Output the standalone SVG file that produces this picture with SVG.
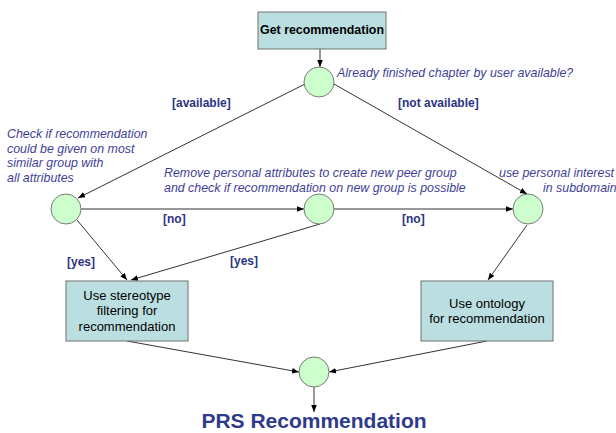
<svg xmlns="http://www.w3.org/2000/svg" width="616" height="433" viewBox="0 0 616 433">
<style>
.box{fill:#bbdfe1;stroke:#707070;stroke-width:1}
.dec{fill:#ccffcc;stroke:#7a7a7a;stroke-width:1}
.btxt{font-family:"Liberation Sans",Arial,sans-serif;font-size:13px;fill:#000;text-anchor:middle}
.note{font-family:"Liberation Sans",Arial,sans-serif;font-size:12.4px;font-style:italic;fill:#3f3f98}
.guard{font-family:"Liberation Sans",Arial,sans-serif;font-size:12px;font-weight:bold;fill:#2b3585}
.edge{stroke:#333;stroke-width:1;fill:none;marker-end:url(#ah)}
</style>
<defs>
<marker id="ah" viewBox="0 0 10 10" refX="10" refY="5" markerWidth="7" markerHeight="7" markerUnits="userSpaceOnUse" orient="auto">
<path d="M0,1 L10,5 L0,9 z" fill="#000"/>
</marker>
</defs>
<rect width="616" height="433" fill="#fff"/>
<g id="connectors">
<line class="edge" x1="320" y1="49" x2="320" y2="67"/>
<line class="edge" x1="305" y1="84" x2="78" y2="198"/>
<line class="edge" x1="334" y1="84" x2="527" y2="194"/>
<line class="edge" x1="81" y1="209" x2="304" y2="209"/>
<line class="edge" x1="334" y1="209" x2="513" y2="209"/>
<line class="edge" x1="77" y1="220" x2="127" y2="280"/>
<line class="edge" x1="320" y1="224" x2="131" y2="280"/>
<line class="edge" x1="527" y1="225" x2="488" y2="280"/>
<line class="edge" x1="127" y1="341" x2="299" y2="372"/>
<line class="edge" x1="487" y1="341" x2="329" y2="372"/>
<line class="edge" x1="314" y1="387" x2="314" y2="412"/>
<text class="guard" x="172" y="107">[available]</text>
<text class="guard" x="398" y="107">[not available]</text>
<text class="guard" x="163" y="223">[no]</text>
<text class="guard" x="402" y="223">[no]</text>
<text class="guard" x="67" y="266">[yes]</text>
<text class="guard" x="230" y="265">[yes]</text>
</g>
<g id="get-recommendation">
<rect class="box" x="258" y="12" width="128" height="37"/>
<text x="322" y="34" font-family="Liberation Sans, Arial, sans-serif" font-size="12.4" font-weight="bold" text-anchor="middle">Get recommendation</text>
</g>
<g id="decision-top">
<circle class="dec" cx="319" cy="82" r="15"/>
<text class="note" x="337" y="77">Already finished chapter by user available?</text>
</g>
<g id="decision-left">
<circle class="dec" cx="66" cy="209" r="15"/>
<text class="note" x="7" y="138">Check if recommendation</text>
<text class="note" x="7" y="152.5">could be given on most</text>
<text class="note" x="7" y="167">similar group with</text>
<text class="note" x="7" y="182">all attributes</text>
</g>
<g id="decision-middle">
<circle class="dec" cx="319" cy="209" r="15"/>
<text class="note" x="164" y="177">Remove personal attributes to create new peer group</text>
<text class="note" x="164" y="192">and check if recommendation on new group is possible</text>
</g>
<g id="decision-right">
<circle class="dec" cx="528" cy="209" r="15"/>
<text class="note" x="499" y="177" font-style="normal">use personal interest</text>
<text class="note" x="543" y="192" font-style="normal">in subdomain</text>
</g>
<g id="stereotype">
<rect class="box" x="66" y="281" width="122" height="60"/>
<text class="btxt" x="127" y="300">Use stereotype</text>
<text class="btxt" x="127" y="315">filtering for</text>
<text class="btxt" x="127" y="331">recommendation</text>
</g>
<g id="ontology">
<rect class="box" x="421" y="281" width="132" height="60"/>
<text class="btxt" x="487" y="308">Use ontology</text>
<text class="btxt" x="487" y="323">for recommendation</text>
</g>
<g id="merge">
<circle class="dec" cx="314" cy="372" r="15"/>
</g>
<g id="result">
<text x="314" y="428" font-family="Liberation Sans, Arial, sans-serif" font-size="21" font-weight="bold" fill="#2e3a8c" text-anchor="middle">PRS Recommendation</text>
</g>
</svg>
